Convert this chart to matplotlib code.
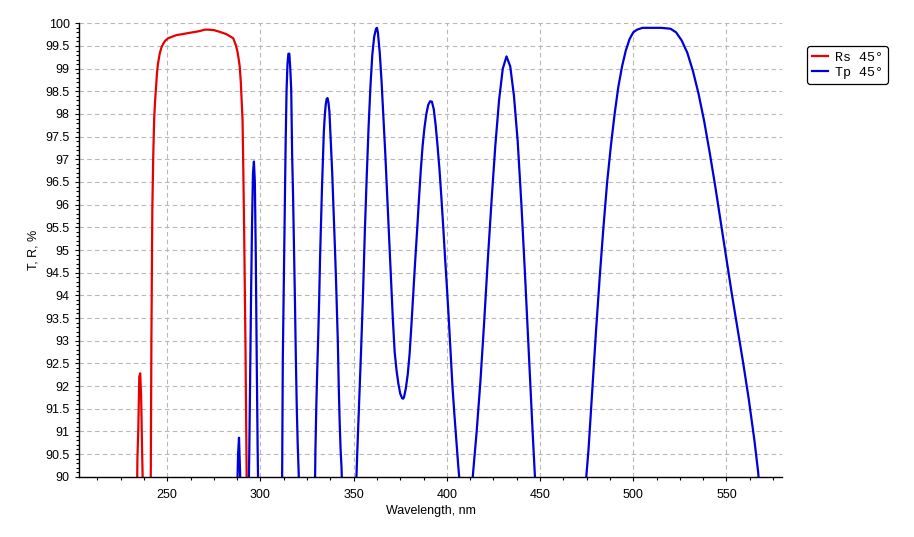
import matplotlib
matplotlib.use('Agg')
import matplotlib.pyplot as plt
from matplotlib.ticker import MultipleLocator, FormatStrFormatter

plt.rcParams.update({
    'font.family': ['Liberation Sans', 'DejaVu Sans'],
    'font.size': 9,
})

# Rs 45° (red) - reflectance band, values below 90 fall outside the view
rs_wl = [225, 233.5, 234, 234.5, 235, 235.5, 236, 236.5, 237, 237.5,
         240, 241, 241.5, 242, 242.5, 243, 243.5, 244, 244.5, 245, 246,
         247, 248, 249, 250.5, 253, 255, 258, 262, 265, 267.5, 270, 272,
         275, 278.3, 281.8, 285.4, 286.8, 287.7, 288.4, 288.9, 289.5, 289.9,
         290.4, 290.8, 291.3, 292.0, 292.6, 293, 296]
rs_val = [85, 88.5, 90.4, 91.1, 92.2, 92.28, 91.76, 90.6, 89.6, 88,
          86, 88.5, 93.0, 95.9, 97.1, 97.9, 98.3, 98.6, 98.9, 99.1, 99.34,
          99.48, 99.56, 99.62, 99.67, 99.71, 99.74, 99.76, 99.79, 99.81, 99.83, 99.86, 99.86,
          99.85, 99.81, 99.76, 99.67, 99.52, 99.37, 99.19, 99.04, 98.68, 98.31,
          97.87, 96.8, 95.29, 92.76, 90.0, 88.5, 85]

# Tp 45° (blue) - transmission
tp_wl = [280, 287, 287.5, 288, 288.5, 289, 289.5, 290,
         293, 293.5, 294, 294.5, 295, 295.5, 296, 296.5, 297, 297.5, 298, 298.5, 299, 300,
         310, 311.5, 312, 312.5, 313, 313.5, 314, 314.5, 315, 315.5, 316, 316.5, 317,
         317.5, 318, 318.5, 319, 319.5, 320, 320.5, 321, 322,
         328, 329, 329.5, 330, 330.5, 331, 331.5, 332, 332.5, 333, 333.5, 334, 334.5,
         335, 335.5, 336, 336.5, 337, 337.5, 338, 338.5, 339, 339.5, 340, 340.5, 341,
         341.5, 342, 342.5, 343, 343.5, 344, 345,
         350, 351, 351.5, 352, 353, 354, 355, 356, 357, 358, 359, 360, 361, 362, 362.5,
         363, 364, 365, 366, 367, 368, 369, 370, 371, 372, 373, 374, 375, 376, 376.5,
         377, 378, 379, 380, 381, 382, 383, 384, 385, 386, 387, 388, 389, 390, 391,
         392, 393, 394, 395, 396, 397, 398, 399, 400, 401, 402, 403, 404, 405, 406,
         407, 408, 410.5, 413, 414, 416, 418, 420, 422, 424, 426, 428, 430, 432,
         434, 436, 438, 440, 442, 444, 446, 448, 449, 460,
         473, 474, 476, 478, 480, 482, 484, 486, 488, 490, 492, 494, 496, 498, 500,
         502, 505, 510, 515, 520, 523, 526, 529, 532, 535, 538, 541, 544, 547,
         550, 553, 556, 559, 562, 565, 567, 575]
tp_val = [85, 88, 89.6, 90.5, 90.86, 90.2, 89.4, 87,
          87, 89.2, 90.5, 92.4, 94.1, 95.6, 96.7, 96.95, 96.5, 94.9, 92.6, 90.6, 89.2, 86,
          86, 89.0, 92.6, 94.2, 95.8, 97.3, 98.5, 99.1, 99.33, 99.33, 99.0, 98.55, 97.1,
          96.2, 95.1, 93.9, 92.6, 91.5, 90.7, 90.1, 89.3, 87,
          87, 89.0, 90.6, 91.6, 92.4, 93.1, 93.9, 94.85, 95.6, 96.35, 97.0, 97.6, 97.95,
          98.2, 98.33, 98.35, 98.25, 98.05, 97.6, 97.15, 96.7, 96.15, 95.6, 95.0, 94.4, 93.7,
          93.0, 92.0, 91.2, 90.6, 90.2, 89.5, 87,
          87, 89.2, 90.0, 90.6, 91.7, 92.8, 94.0, 95.4, 96.6, 97.7, 98.6, 99.3, 99.7, 99.88, 99.9,
          99.8, 99.35, 98.7, 97.9, 97.1, 96.2, 95.3, 94.35, 93.5, 92.75, 92.35, 92.05, 91.83, 91.73, 91.72,
          91.75, 91.95, 92.25, 92.7, 93.35, 94.05, 94.75, 95.4, 96.1, 96.75, 97.3, 97.7, 98.0, 98.2, 98.28,
          98.27, 98.1, 97.75, 97.3, 96.8, 96.2, 95.55, 94.85, 94.2, 93.5, 92.75, 92.0, 91.4, 90.85, 90.3,
          89.8, 89.0, 88.3, 89.5, 90.05, 91.0, 92.1, 93.4, 94.8, 96.1, 97.3, 98.3, 99.0, 99.27,
          99.05, 98.4, 97.4, 96.0, 94.4, 92.7, 91.0, 89.4, 88.5, 84,
          88.6, 89.6, 90.6, 91.9, 93.2, 94.4, 95.5, 96.5, 97.3, 98.0, 98.6, 99.05, 99.4, 99.65, 99.8,
          99.86, 99.9, 99.9, 99.9, 99.88, 99.8, 99.62, 99.35, 98.95, 98.45, 97.85, 97.15, 96.4, 95.6,
          94.8, 94.0, 93.25, 92.5, 91.7, 90.8, 90.1, 86]

fig = plt.figure(figsize=(9.14, 5.37), dpi=100)
ax = fig.add_axes([0.0861, 0.1123, 0.7699, 0.8443])

ax.plot(rs_wl, rs_val, color='#e60000', lw=1.6, label='Rs 45°')
ax.plot(tp_wl, tp_val, color='#0000d8', lw=1.6, label='Tp 45°')

ax.set_xlim(202.5, 580)
ax.set_ylim(90, 100)
ax.xaxis.set_major_locator(MultipleLocator(50))
ax.xaxis.set_minor_locator(MultipleLocator(12.5))
ax.yaxis.set_major_locator(MultipleLocator(0.5))
ax.yaxis.set_minor_locator(MultipleLocator(0.1))
ax.yaxis.set_major_formatter(FormatStrFormatter('%g'))
ax.tick_params(which='both', direction='out', length=3, width=0.8, colors='black', labelsize=9)
ax.tick_params(which='minor', length=2)
ax.tick_params(axis='x', pad=6)

ax.grid(True, which='major', color='#b8b8b8', linestyle=(0, (4, 3)), linewidth=0.8)
ax.set_axisbelow(True)
for s in ['top', 'right']:
    ax.spines[s].set_visible(False)
for s in ['left', 'bottom']:
    ax.spines[s].set_linewidth(1.0)

ax.set_xlabel('Wavelength, nm', fontsize=9, labelpad=3)
ax.set_ylabel('T, R, %', fontsize=9, labelpad=4)

leg = fig.legend(loc='upper left', bbox_to_anchor=(0.883, 0.914), borderaxespad=0,
                 prop={'family': 'Liberation Mono', 'size': 9.5},
                 handlelength=1.2, handletextpad=0.5, borderpad=0.4,
                 labelspacing=0.2, frameon=True, fancybox=True)
leg.get_frame().set_edgecolor('black')
leg.get_frame().set_linewidth(0.9)
leg.get_frame().set_alpha(1)

fig.savefig('out.png', dpi=100)
